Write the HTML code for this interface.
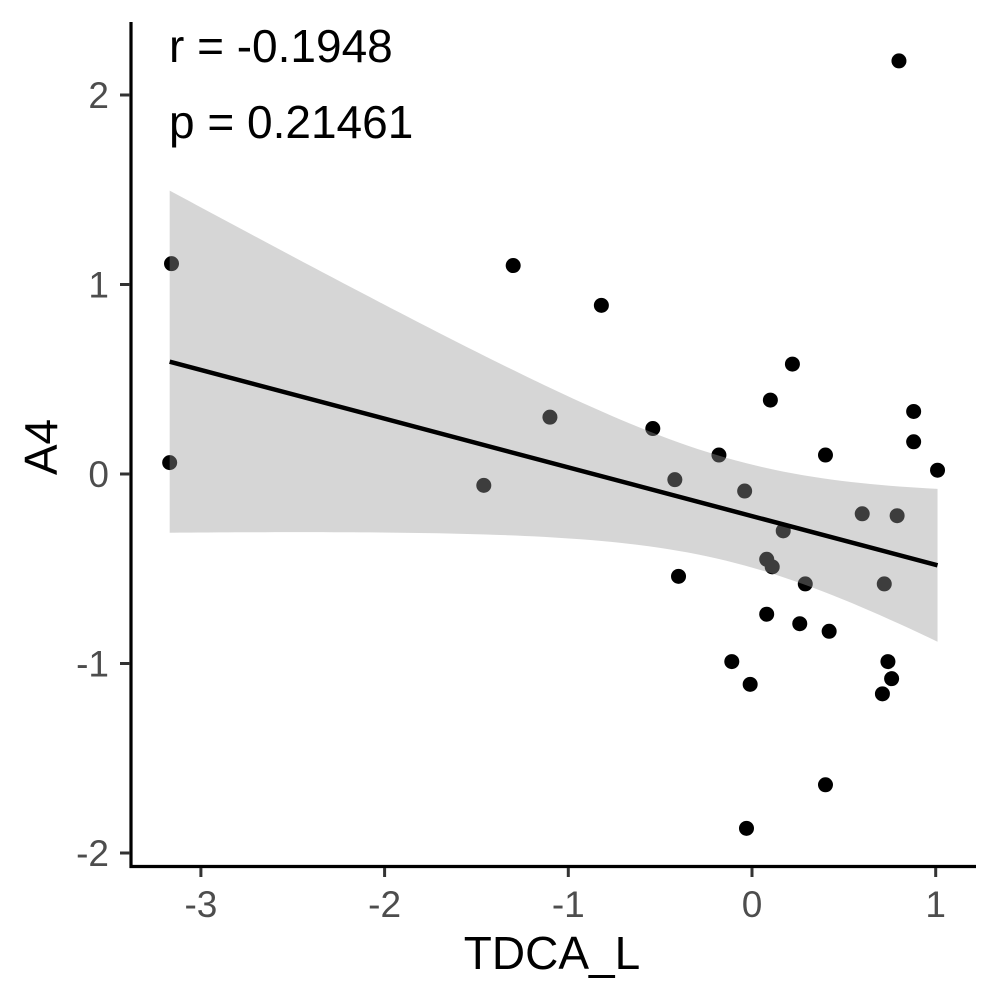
<!DOCTYPE html>
<html><head><meta charset="utf-8">
<style>html,body{margin:0;padding:0;background:#fff}svg{display:block;font-family:"Liberation Sans",Arial,sans-serif}</style>
</head><body>
<svg id="chart" width="1000" height="1000" viewBox="0 0 1000 1000" xmlns="http://www.w3.org/2000/svg">
<rect x="0" y="0" width="1000" height="1000" fill="#fff"/>
<g id="band-layer"></g>
<g id="points-layer"></g>
<g id="line-layer"></g>
<g id="axes"></g>
<text x="169" y="62" font-size="46" fill="#000">r = -0.1948</text>
<text x="169" y="138" font-size="46" fill="#000">p = 0.21461</text>
<text x="552" y="969" font-size="46" fill="#000" text-anchor="middle">TDCA_L</text>
<text x="57" y="447" font-size="46" fill="#000" text-anchor="middle" transform="rotate(-90 57 447)">A4</text>
</svg>
<script>
const xValues = [-3.16,-3.17,-1.46,-1.30,-1.10,-0.82,-0.54,-0.42,-0.40,-0.18,-0.11,-0.04,-0.01,-0.03,0.08,0.11,0.08,0.10,0.17,0.22,0.26,0.29,0.40,0.42,0.40,0.60,0.72,0.71,0.74,0.76,0.79,0.80,0.88,0.88,1.01];
const yValues = [1.11,0.06,-0.06,1.10,0.30,0.89,0.24,-0.03,-0.54,0.10,-0.99,-0.09,-1.11,-1.87,-0.45,-0.49,-0.74,0.39,-0.30,0.58,-0.79,-0.58,0.10,-0.83,-1.64,-0.21,-0.58,-1.16,-0.99,-1.08,-0.22,2.18,0.33,0.17,0.02];
const xTicks = [-3,-2,-1,0,1];
const yTicks = [-2,-1,0,1,2];
const xTickLabels = ["-3","-2","-1","0","1"];
const yTickLabels = ["-2","-1","0","1","2"];

const NS = "http://www.w3.org/2000/svg";
function xs(v){ return 752 + v*183.7; }
function ys(v){ return 474 - v*189.5; }
function mk(tag, attrs, parent){ const e=document.createElementNS(NS,tag); for(const k in attrs) e.setAttribute(k,attrs[k]); parent.appendChild(e); return e; }

const n = xValues.length;
const mx = xValues.reduce((a,b)=>a+b,0)/n, my = yValues.reduce((a,b)=>a+b,0)/n;
let sxx=0, sxy=0; for(let i=0;i<n;i++){ sxx+=(xValues[i]-mx)**2; sxy+=(xValues[i]-mx)*(yValues[i]-my); }
const b = sxy/sxx, a = my - b*mx;
let sse=0; for(let i=0;i<n;i++){ sse += (yValues[i]-a-b*xValues[i])**2; }
const s = Math.sqrt(sse/(n-2)), t = 2.035;
const xmin = Math.min(...xValues), xmax = Math.max(...xValues);

const pl = document.getElementById('points-layer');
for(let i=0;i<n;i++){
  const c = mk('circle',{cx:xs(xValues[i]),cy:ys(yValues[i]),r:7.5,fill:'#000'},pl);
  
  
}

const up=[], lo=[];
for(let k=0;k<=80;k++){
  const x = xmin + (xmax-xmin)*k/80;
  const se = s*Math.sqrt(1/n + (x-mx)**2/sxx);
  const f = a + b*x;
  up.push(xs(x)+','+ys(f+t*se)); lo.unshift(xs(x)+','+ys(f-t*se));
}
const band = mk('polygon',{points:up.concat(lo).join(' '),fill:'#999','fill-opacity':0.4},document.getElementById('band-layer'));


document.getElementById('chart').insertBefore(document.getElementById('points-layer'), document.getElementById('band-layer'));

const ln = mk('line',{x1:xs(xmin),y1:ys(a+b*xmin),x2:xs(xmax),y2:ys(a+b*xmax),stroke:'#000','stroke-width':4.5},document.getElementById('line-layer'));



const ax = document.getElementById('axes');
const yl = mk('line',{x1:131,y1:22,x2:131,y2:868,stroke:'#000','stroke-width':3.2},ax);


const xl = mk('line',{x1:129.5,y1:866.5,x2:976,y2:866.5,stroke:'#000','stroke-width':3.2},ax);


xTicks.forEach((v,i)=>{
  const tk = mk('line',{x1:xs(v),y1:868,x2:xs(v),y2:877,stroke:'#333','stroke-width':3},ax);
  
  
  const tx = mk('text',{x:xs(v),y:917,'font-size':37,fill:'#4d4d4d','text-anchor':'middle'},ax);
  tx.textContent = xTickLabels[i];
  
  
});
yTicks.forEach((v,i)=>{
  const tk = mk('line',{x1:120,y1:ys(v),x2:130,y2:ys(v),stroke:'#333','stroke-width':3},ax);
  
  
  const tx = mk('text',{x:109,y:ys(v)+13,'font-size':37,fill:'#4d4d4d','text-anchor':'end'},ax);
  tx.textContent = yTickLabels[i];
  
  
});
</script>
</body></html>
